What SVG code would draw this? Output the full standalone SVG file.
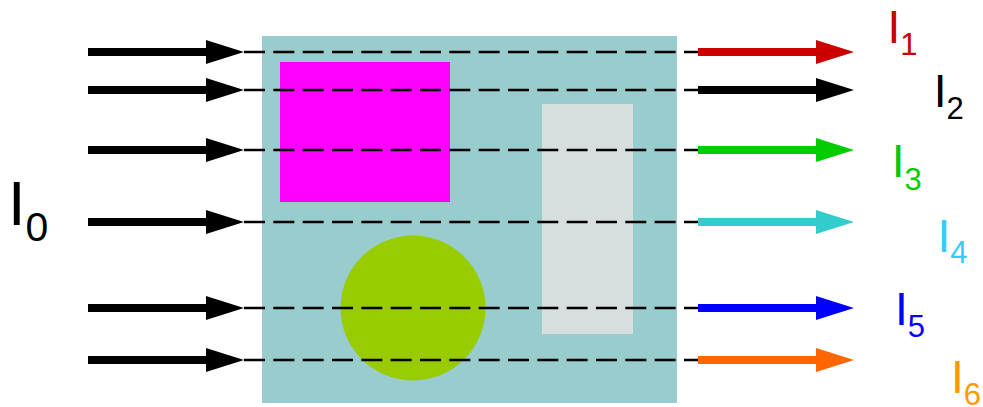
<svg xmlns="http://www.w3.org/2000/svg" xmlns:xlink="http://www.w3.org/1999/xlink" width="983" height="407" viewBox="0 0 983 407">
  <style>
    .lbl { font-family: "Liberation Sans", Arial, sans-serif; font-size: 46px; }
    .sub { font-size: 31px; }
    .ray { stroke: #000; stroke-width: 2.6; stroke-dasharray: 21 8.33; fill: none; }
  </style>
  <defs>
    <!-- thick arrow: shaft 118 long, head 38 long, 24 tall; origin at tail centre -->
    <g id="arrow">
      <rect x="0" y="-4" width="119" height="8"/>
      <polygon points="118,-12 156,0 118,12"/>
    </g>
  </defs>

  <rect width="983" height="407" fill="#fff"/>

  <!-- sample block with inclusions -->
  <g id="sample">
    <rect x="262" y="36" width="415" height="367" fill="#99CCCC"/>
    <rect x="280" y="62" width="170" height="140" fill="#FF00FF"/>
    <rect x="542" y="104" width="91" height="230" fill="#D6DEDE"/>
    <circle cx="413" cy="308" r="72.5" fill="#99CC00"/>
  </g>

  <!-- incoming beams -->
  <g id="incoming" fill="#000">
    <use xlink:href="#arrow" x="88" y="52"/>
    <use xlink:href="#arrow" x="88" y="90"/>
    <use xlink:href="#arrow" x="88" y="150"/>
    <use xlink:href="#arrow" x="88" y="222"/>
    <use xlink:href="#arrow" x="88" y="308"/>
    <use xlink:href="#arrow" x="88" y="360"/>
  </g>

  <!-- ray paths through the sample -->
  <g id="connectors">
    <line class="ray" x1="244" y1="52" x2="702" y2="52"/>
    <line class="ray" x1="244" y1="90" x2="702" y2="90"/>
    <line class="ray" x1="244" y1="150" x2="702" y2="150"/>
    <line class="ray" x1="244" y1="222" x2="702" y2="222"/>
    <line class="ray" x1="244" y1="308" x2="702" y2="308"/>
    <line class="ray" x1="244" y1="360" x2="702" y2="360"/>
  </g>

  <!-- transmitted beams -->
  <g id="outgoing">
    <use xlink:href="#arrow" x="698" y="52" fill="#CC0000"/>
    <use xlink:href="#arrow" x="698" y="90" fill="#000000"/>
    <use xlink:href="#arrow" x="698" y="150" fill="#00CC00"/>
    <use xlink:href="#arrow" x="698" y="222" fill="#33CCCC"/>
    <use xlink:href="#arrow" x="698" y="308" fill="#0000FF"/>
    <use xlink:href="#arrow" x="698" y="360" fill="#FF6600"/>
  </g>

  <!-- intensity labels -->
  <g id="label-I0">
    <text class="lbl" x="8" y="225" style="font-size:63px" fill="#000">I<tspan dy="16" style="font-size:41px">0</tspan></text>
  </g>
  <g id="label-I1">
    <text class="lbl" x="887.4" y="43.3" fill="#CC0000">I<tspan class="sub" dy="12">1</tspan></text>
  </g>
  <g id="label-I2">
    <text class="lbl" x="933.7" y="106.7" fill="#000000">I<tspan class="sub" dy="12">2</tspan></text>
  </g>
  <g id="label-I3">
    <text class="lbl" x="891.7" y="176.7" fill="#00CC00">I<tspan class="sub" dy="13">3</tspan></text>
  </g>
  <g id="label-I4">
    <text class="lbl" x="937.4" y="251.7" fill="#33CCFF">I<tspan class="sub" dy="11.5">4</tspan></text>
  </g>
  <g id="label-I5">
    <text class="lbl" x="895" y="325" fill="#0000FF">I<tspan class="sub" dy="12">5</tspan></text>
  </g>
  <g id="label-I6">
    <text class="lbl" x="951" y="393.3" fill="#FF9900">I<tspan class="sub" dy="12">6</tspan></text>
  </g>
</svg>
